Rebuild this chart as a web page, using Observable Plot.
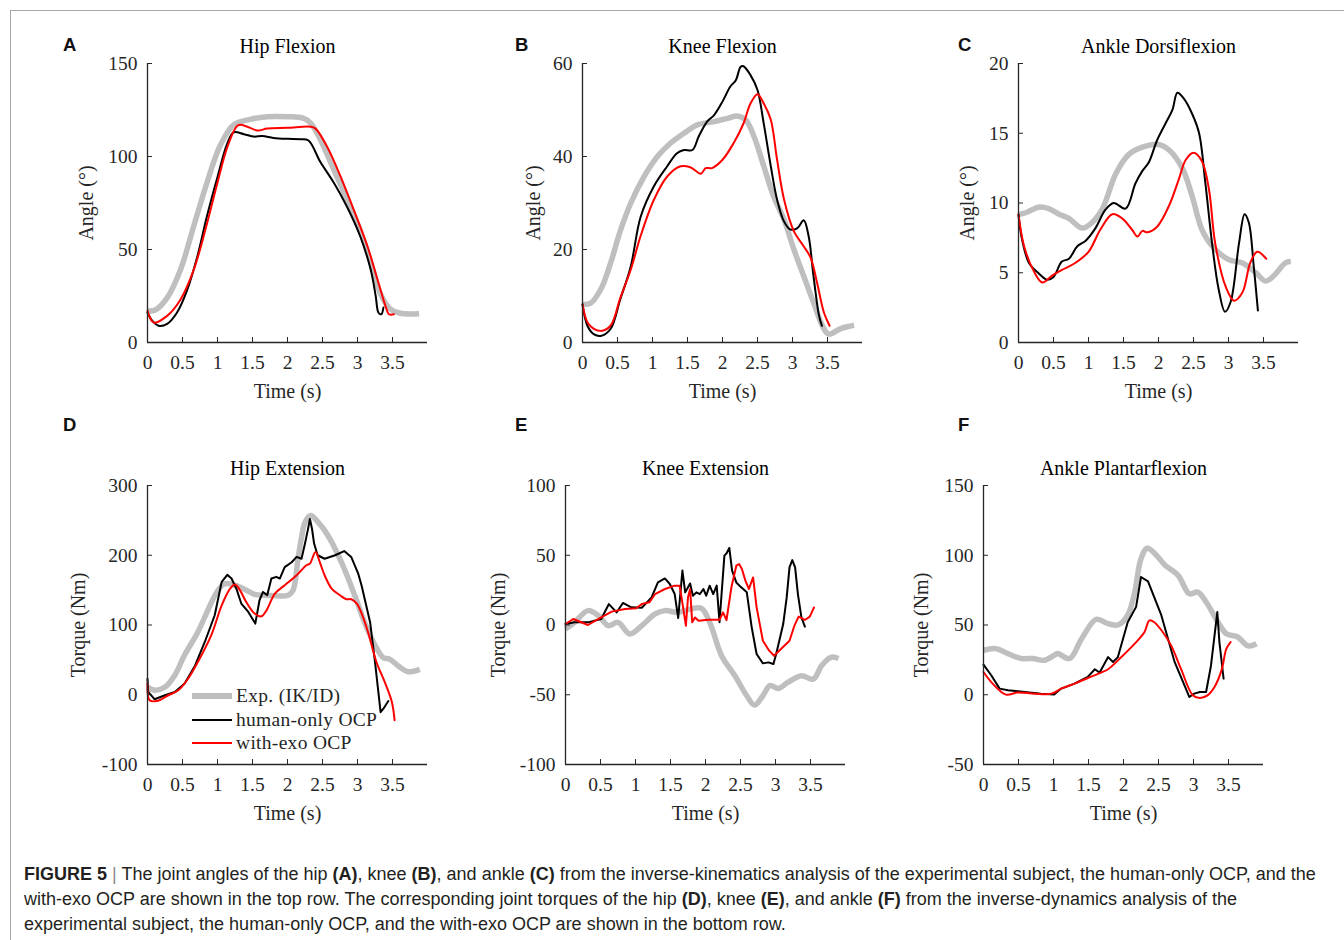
<!DOCTYPE html>
<html>
<head>
<meta charset="utf-8">
<script src="https://cdn.jsdelivr.net/npm/d3@7"></script>
<script src="https://cdn.jsdelivr.net/npm/@observablehq/plot@0.6"></script>
<style>
  html, body { margin: 0; padding: 0; background: #fff; }
  body { width: 1344px; height: 940px; overflow: hidden; position: relative; }
  #frame { position: absolute; left: 10px; top: 10px; width: 1500px; height: 1100px;
           border-left: 1px solid #a8a8a8; border-top: 1px solid #a8a8a8; }
  .panel { position: absolute; }
  .letter { position: absolute; font-family: "Liberation Sans", Arial, sans-serif; font-weight: bold;
            font-size: 18.5px; line-height: 18px; color: #111; }
  .legrow { position: absolute; height: 24px; white-space: nowrap; }
  .legline { position: absolute; left: 0; width: 40px; }
  .legtext { position: absolute; left: 44px; top: 0; font-family: "Liberation Serif", serif;
             font-size: 19.5px; line-height: 24px; color: #262626; letter-spacing: 0.3px; }
  #caption { position: absolute; left: 24px; top: 862px; font-family: "Liberation Sans", Arial, sans-serif;
             font-size: 18px; line-height: 25px; color: #231f20; white-space: nowrap; }
  #caption b { font-weight: bold; }
  #caption .sep { color: #8a8a8a; }
</style>
</head>
<body>
<div id="frame"></div>
<div id="root"></div>
<div id="caption"></div>
<script>
// ---------- tick values ----------
const xTicks = [0, 0.5, 1, 1.5, 2, 2.5, 3, 3.5];
const xDomain = [0, 4];
const hipAngleTicks = [0, 50, 100, 150];
const kneeAngleTicks = [0, 20, 40, 60];
const ankleAngleTicks = [0, 5, 10, 15, 20];
const hipTorqueTicks = [-100, 0, 100, 200, 300];
const kneeTorqueTicks = [-100, -50, 0, 50, 100];
const ankleTorqueTicks = [-50, 0, 50, 100, 150];

// ---------- series: [time (s), value] ----------
// A: Hip Flexion (deg)
const hipFlexExp = [[0,17],[0.11,17.5],[0.28,24],[0.47,39],[0.66,62.5],[0.85,86],[1.04,106],[1.23,117],[1.47,120],[1.71,121.4],[2.0,121.4],[2.23,120.5],[2.33,118],[2.47,109],[2.66,93],[2.85,77],[3.04,60],[3.19,43],[3.33,26],[3.47,18],[3.61,15.7],[3.88,15.5]];
const hipFlexHuman = [[0,16],[0.07,11.6],[0.16,9],[0.28,10],[0.42,16],[0.57,28.6],[0.71,46],[0.85,68],[1.0,89],[1.14,107],[1.23,113],[1.38,112],[1.52,110.7],[1.64,111],[1.80,110],[2.0,109.5],[2.19,109.3],[2.30,108.6],[2.47,97],[2.66,86],[2.85,73],[3.04,57],[3.19,39],[3.26,25],[3.30,16],[3.34,15.2],[3.37,18.8]];
const hipFlexExo = [[0,17],[0.09,10.7],[0.28,14.3],[0.47,23],[0.66,39],[0.85,64],[1.0,86],[1.14,105],[1.28,116.4],[1.35,117],[1.57,114],[1.71,115],[2.0,115.4],[2.33,116],[2.40,115],[2.57,105],[2.76,89],[2.95,71],[3.14,52],[3.30,32],[3.40,19.6],[3.45,15.2],[3.52,15.2]];

// B: Knee Flexion (deg)
const kneeFlexExp = [[0,8.2],[0.11,8.4],[0.26,11.4],[0.40,17],[0.54,24],[0.69,30],[0.88,35.7],[1.07,40],[1.26,42.9],[1.45,45],[1.64,46.8],[1.88,47.5],[2.07,48.2],[2.21,48.7],[2.33,47.9],[2.45,44.3],[2.59,37.9],[2.73,31.4],[2.88,26.4],[3.02,20],[3.16,14.3],[3.30,8.6],[3.45,2.9],[3.52,1.8],[3.69,3],[3.88,3.7]];
const kneeFlexHuman = [[0,8.2],[0.07,3.6],[0.16,1.8],[0.26,1.4],[0.40,2.9],[0.54,9.3],[0.69,16.4],[0.83,27],[1.02,33.6],[1.21,37.9],[1.35,40.7],[1.45,41.4],[1.57,41.4],[1.66,44.3],[1.78,47.5],[1.88,48.9],[2.0,51.8],[2.11,55],[2.19,56.4],[2.26,59.3],[2.30,59.4],[2.40,57.5],[2.50,54.3],[2.59,47],[2.69,37.9],[2.78,30.7],[2.88,26],[2.97,24.3],[3.07,24.6],[3.16,26.3],[3.23,22.9],[3.30,14.3],[3.38,5.7],[3.42,3.6]];
const kneeFlexExo = [[0,8.2],[0.09,3.9],[0.26,2.5],[0.40,3.6],[0.54,9.6],[0.69,15.7],[0.83,22.9],[1.02,30.7],[1.21,35.7],[1.40,37.9],[1.54,37.7],[1.69,36.3],[1.76,37.5],[1.85,37.5],[2.0,39.3],[2.16,42.9],[2.30,47.1],[2.40,51.4],[2.50,53.4],[2.59,51.4],[2.69,47.9],[2.78,39.3],[2.88,30.7],[3.02,23.9],[3.16,20.7],[3.26,18.2],[3.35,12.9],[3.45,6.4],[3.53,3.6]];

// C: Ankle Dorsiflexion (deg)
const ankleDorsiExp = [[0,9.17],[0.10,9.3],[0.29,9.7],[0.43,9.6],[0.58,9.2],[0.72,8.9],[0.91,8.2],[1.05,8.6],[1.20,9.6],[1.39,12.1],[1.58,13.5],[1.77,14.0],[2.0,14.2],[2.15,13.8],[2.34,12.5],[2.48,10.5],[2.62,8.1],[2.77,6.9],[3.0,5.95],[3.20,5.7],[3.39,5.0],[3.53,4.4],[3.65,4.8],[3.81,5.7],[3.89,5.8]];
const ankleDorsiHuman = [[0,9.17],[0.05,7.4],[0.15,5.7],[0.29,4.95],[0.41,4.5],[0.50,4.7],[0.62,5.8],[0.72,6.0],[0.84,6.9],[0.96,7.3],[1.10,8.2],[1.24,9.5],[1.36,10.0],[1.53,9.6],[1.67,11.4],[1.77,12.3],[1.86,12.9],[1.98,14.5],[2.10,15.7],[2.20,16.7],[2.27,17.9],[2.36,17.5],[2.48,16.4],[2.58,15.0],[2.67,11.4],[2.77,6.9],[2.86,3.8],[2.95,2.2],[3.03,2.9],[3.15,7.1],[3.23,9.2],[3.29,8.6],[3.36,5.5],[3.42,2.3]];
const ankleDorsiExo = [[0,9.17],[0.08,6.9],[0.22,5.1],[0.34,4.3],[0.48,4.8],[0.62,5.2],[0.81,5.7],[1.0,6.5],[1.17,8.1],[1.34,9.2],[1.48,8.9],[1.62,8.1],[1.70,7.6],[1.77,8.0],[1.84,7.9],[1.98,8.3],[2.15,9.8],[2.29,11.7],[2.39,13.1],[2.50,13.6],[2.62,13.0],[2.72,11.0],[2.81,7.1],[2.96,4.0],[3.08,3.0],[3.20,3.6],[3.31,5.7],[3.41,6.5],[3.54,6.0]];

// D: Hip Extension (Nm)
const hipExtExp = [[0,11],[0.10,6.4],[0.25,11],[0.39,28],[0.53,57],[0.72,90],[0.87,123],[0.99,147],[1.10,159],[1.25,157],[1.39,151],[1.53,144],[1.68,142.7],[2.01,142.7],[2.08,150],[2.15,195],[2.20,225],[2.25,247],[2.33,257],[2.44,247],[2.58,228],[2.77,190],[2.96,142.5],[3.10,104],[3.25,71],[3.37,53],[3.46,51],[3.60,40],[3.72,33],[3.89,36.5]];
const hipExtHuman = [[0,23],[0.01,4],[0.10,-6.4],[0.25,-0.7],[0.39,4],[0.53,16],[0.68,42],[0.82,76],[0.96,114],[1.06,162],[1.14,172],[1.20,166.6],[1.27,152],[1.34,130.8],[1.44,118.7],[1.54,102],[1.60,135.5],[1.65,147.4],[1.71,142.7],[1.77,166.6],[1.84,169],[1.89,166.6],[1.96,183],[2.06,190],[2.13,197.6],[2.20,195],[2.25,216.8],[2.29,236],[2.32,252],[2.35,238],[2.38,216.8],[2.43,200],[2.53,195],[2.68,200],[2.81,206],[2.91,197.6],[3.01,173.8],[3.06,156],[3.18,104],[3.25,47],[3.33,-25],[3.37,-20],[3.44,-9]];
const hipExtExo = [[0,16],[0.03,-8],[0.13,-9],[0.30,-0.7],[0.44,6.4],[0.58,23],[0.72,47],[0.91,85],[1.06,128],[1.18,152],[1.25,158],[1.32,150],[1.41,133],[1.53,116.4],[1.63,112.5],[1.70,121],[1.82,145],[1.96,157],[2.13,171.3],[2.27,185.7],[2.32,188],[2.40,204.7],[2.46,190.4],[2.53,171.3],[2.63,152.3],[2.75,142.7],[2.84,137],[2.91,137],[2.99,130.8],[3.06,116.4],[3.15,90],[3.27,47],[3.39,18],[3.49,-10],[3.53,-36.5]];

// E: Knee Extension (Nm)
const kneeExtExp = [[0,-2.9],[0.13,1.9],[0.32,10.3],[0.47,6.7],[0.61,-0.5],[0.75,1.9],[0.92,-6.5],[1.09,-0.5],[1.28,7.9],[1.42,10.3],[1.61,9.1],[1.75,11],[1.94,12],[2.06,1.9],[2.23,-22],[2.42,-36.4],[2.59,-50.7],[2.70,-57.4],[2.82,-50.7],[2.92,-43.5],[3.04,-45.5],[3.18,-41],[3.37,-36.4],[3.54,-38.8],[3.66,-29],[3.80,-23],[3.90,-24]];
const kneeExtHuman = [[0,0.7],[0.13,1.9],[0.32,1.9],[0.51,4.3],[0.62,15],[0.73,9],[0.82,15.8],[0.94,12.7],[1.09,12.4],[1.23,19.8],[1.32,30.5],[1.42,33.4],[1.49,29.4],[1.56,22.2],[1.61,5],[1.67,39],[1.71,23.4],[1.78,29.8],[1.82,21],[1.87,23.4],[1.92,22.2],[1.97,25.8],[2.01,21],[2.06,28.2],[2.11,22.2],[2.16,28.2],[2.20,2],[2.27,49.7],[2.30,51.3],[2.34,55.2],[2.38,39],[2.44,30.5],[2.51,27],[2.59,23.4],[2.66,-1.7],[2.73,-20.8],[2.82,-27.5],[2.90,-26.8],[2.97,-28],[3.01,-20.8],[3.11,0.7],[3.16,19.8],[3.20,41.3],[3.24,46.5],[3.28,41.3],[3.32,22.2],[3.37,5.4],[3.42,-1.2]];
const kneeExtExo = [[0,0.7],[0.11,4.3],[0.32,0],[0.51,5.5],[0.66,9.6],[0.85,11.5],[1.01,12],[1.09,15],[1.20,16.3],[1.28,22.2],[1.42,25.8],[1.56,28.2],[1.63,28.2],[1.68,12.6],[1.72,-0.5],[1.75,19.8],[1.78,25.8],[1.81,1.9],[1.85,5.4],[1.90,3],[2.04,3.8],[2.20,3.8],[2.25,9],[2.30,3.6],[2.37,27],[2.44,42.5],[2.48,43.7],[2.52,40.1],[2.57,31.8],[2.62,25.8],[2.68,34.1],[2.73,12.6],[2.82,-11.3],[2.91,-18.4],[2.98,-22],[3.10,-16.1],[3.20,-11.3],[3.27,-0.5],[3.33,6],[3.42,3.6],[3.49,6],[3.55,12.6]];

// F: Ankle Plantarflexion (Nm)
const anklePlantExp = [[0,31.9],[0.18,33],[0.35,29.5],[0.54,26],[0.70,26],[0.87,24.7],[1.01,28.3],[1.06,29.5],[1.23,26],[1.40,40],[1.61,54],[1.78,51],[1.92,50],[2.06,57],[2.16,73.6],[2.25,97.5],[2.34,105],[2.47,100],[2.59,93],[2.78,85.6],[2.94,72.4],[3.06,73.6],[3.18,66.5],[3.35,52],[3.47,43.8],[3.63,41.4],[3.78,35],[3.90,36.6]];
const anklePlantHuman = [[0,21.6],[0.11,14],[0.23,4.4],[0.35,3.2],[0.59,2],[0.82,0.8],[1.01,0.1],[1.11,4.4],[1.30,8],[1.49,12.8],[1.59,18.3],[1.66,15.9],[1.78,27],[1.85,23.5],[1.92,27],[2.06,52],[2.18,63],[2.25,84.4],[2.35,81.3],[2.54,57],[2.73,23.5],[2.94,-1.6],[3.01,0.8],[3.09,2],[3.18,2],[3.25,21],[3.34,59.3],[3.37,37.8],[3.43,11.6]];
const anklePlantExo = [[0,16.3],[0.13,8],[0.32,0.1],[0.49,1.6],[0.73,0.8],[0.97,0.8],[1.11,4.4],[1.30,8],[1.49,12],[1.68,15.9],[1.78,18.3],[1.97,27],[2.16,36.6],[2.30,45],[2.37,53.3],[2.44,52],[2.56,45],[2.68,35.4],[2.82,18.7],[2.99,-0.4],[3.09,-2.3],[3.20,-0.4],[3.30,5.6],[3.40,17.5],[3.47,33],[3.53,37.8]];

// ---------- series styles / legend ----------
const seriesNames = ["Exp. (IK/ID)", "human-only OCP", "with-exo OCP"];
const seriesColors = ["#bfbfbf", "#000000", "#ff0000"];
const seriesWidths = [5.5, 2, 2];

// ---------- panels ----------
const panels = [
  {letter: "A", title: "Hip Flexion", ylabel: "Angle (°)", left: 147, top: 63, yDomain: [0, 150], yTicks: hipAngleTicks, labelDx: 61, letterX: 63, letterY: 35.5, series: [hipFlexExp, hipFlexHuman, hipFlexExo], curves: ["catmull-rom", "catmull-rom", "catmull-rom"]},
  {letter: "B", title: "Knee Flexion", ylabel: "Angle (°)", left: 582, top: 63, yDomain: [0, 60], yTicks: kneeAngleTicks, labelDx: 49, letterX: 515, letterY: 35.5, series: [kneeFlexExp, kneeFlexHuman, kneeFlexExo], curves: ["catmull-rom", "catmull-rom", "catmull-rom"]},
  {letter: "C", title: "Ankle Dorsiflexion", ylabel: "Angle (°)", left: 1018, top: 63, yDomain: [0, 20], yTicks: ankleAngleTicks, labelDx: 51, letterX: 958, letterY: 35.5, series: [ankleDorsiExp, ankleDorsiHuman, ankleDorsiExo], curves: ["catmull-rom", "catmull-rom", "catmull-rom"]},
  {letter: "D", title: "Hip Extension", ylabel: "Torque (Nm)", left: 147, top: 485, yDomain: [-100, 300], yTicks: hipTorqueTicks, labelDx: 69, letterX: 63, letterY: 416, series: [hipExtExp, hipExtHuman, hipExtExo], curves: ["catmull-rom", "linear", "catmull-rom"], legend: true},
  {letter: "E", title: "Knee Extension", ylabel: "Torque (Nm)", left: 565, top: 485, yDomain: [-100, 100], yTicks: kneeTorqueTicks, labelDx: 67, letterX: 515, letterY: 416, series: [kneeExtExp, kneeExtHuman, kneeExtExo], curves: ["catmull-rom", "linear", "linear"]},
  {letter: "F", title: "Ankle Plantarflexion", ylabel: "Torque (Nm)", left: 983, top: 485, yDomain: [-50, 150], yTicks: ankleTorqueTicks, labelDx: 62, letterX: 958, letterY: 416, series: [anklePlantExp, anklePlantHuman, anklePlantExo], curves: ["catmull-rom", "linear", "catmull-rom"]}
];

const PW = 280, PH = 279;
const mL = 100, mT = 50, mR = 20, mB = 70;
const axisColor = "#262626";
const labelFont = {fontSize: 20, letterSpacing: "0.6px"};
const root = document.getElementById("root");

for (const p of panels) {
  const lineMarks = p.series.map((s, i) => Plot.line(s, {
    x: d => d[0], y: d => d[1], curve: p.curves[i],
    stroke: seriesColors[i], strokeWidth: seriesWidths[i],
    strokeLinejoin: "round", strokeLinecap: i === 0 ? "butt" : "round"
  }));
  const chart = Plot.plot({
    width: mL + PW + mR, height: mT + PH + mB,
    marginLeft: mL, marginTop: mT, marginRight: mR, marginBottom: mB,
    x: {domain: xDomain},
    y: {domain: p.yDomain},
    style: {fontFamily: "'Liberation Serif', serif", fontSize: "19.5px", color: axisColor, background: "transparent", overflow: "visible"},
    marks: [
      ...lineMarks,
      Plot.ruleX([xDomain[0]], {stroke: axisColor, strokeWidth: 1.3}),
      Plot.ruleY([p.yDomain[0]], {stroke: axisColor, strokeWidth: 1.3}),
      Plot.axisX({ticks: xTicks, tickSize: -5, fill: "none", label: null, stroke: axisColor}),
      Plot.axisX({ticks: xTicks, tickSize: 0, tickPadding: 13, label: null, tickFormat: d => String(d), fill: axisColor}),
      Plot.axisY({ticks: p.yTicks, tickSize: -5, fill: "none", label: null, stroke: axisColor}),
      Plot.axisY({ticks: p.yTicks, tickSize: 0, tickPadding: 10, label: null, tickFormat: d => String(d), fill: axisColor}),
      Plot.text([p.title], {text: d => d, frameAnchor: "top", textAnchor: "middle", lineAnchor: "bottom", dy: -11, fill: "#000", ...labelFont}),
      Plot.text(["Time (s)"], {text: d => d, frameAnchor: "bottom", textAnchor: "middle", lineAnchor: "bottom", dy: 55, fill: axisColor, ...labelFont}),
      Plot.text([p.ylabel], {text: d => d, frameAnchor: "left", textAnchor: "middle", lineAnchor: "middle", rotate: -90, dx: -p.labelDx, fill: axisColor, ...labelFont})
    ]
  });
  chart.classList.add("panel");
  chart.style.left = (p.left - mL) + "px";
  chart.style.top = (p.top - mT) + "px";
  root.appendChild(chart);

  const letter = document.createElement("div");
  letter.className = "letter";
  letter.textContent = p.letter;
  letter.style.left = p.letterX + "px";
  letter.style.top = p.letterY + "px";
  root.appendChild(letter);

  if (p.legend) {
    const legLeft = 192, legTop0 = 684, legStep = 23.5;
    seriesNames.forEach((name, i) => {
      const row = document.createElement("div");
      row.className = "legrow";
      row.style.left = legLeft + "px";
      row.style.top = (legTop0 + i * legStep) + "px";
      const ln = document.createElement("div");
      ln.className = "legline";
      ln.style.background = seriesColors[i];
      ln.style.height = seriesWidths[i] + "px";
      ln.style.top = (12 - seriesWidths[i] / 2) + "px";
      const tx = document.createElement("div");
      tx.className = "legtext";
      tx.textContent = name;
      row.appendChild(ln);
      row.appendChild(tx);
      root.appendChild(row);
    });
  }
}

// ---------- caption ----------
const captionLines = [
  '<b>FIGURE 5</b> <span class="sep">|</span> The joint angles of the hip <b>(A)</b>, knee <b>(B)</b>, and ankle <b>(C)</b> from the inverse-kinematics analysis of the experimental subject, the human-only OCP, and the',
  'with-exo OCP are shown in the top row. The corresponding joint torques of the hip <b>(D)</b>, knee <b>(E)</b>, and ankle <b>(F)</b> from the inverse-dynamics analysis of the',
  'experimental subject, the human-only OCP, and the with-exo OCP are shown in the bottom row.'
];
document.getElementById("caption").innerHTML = captionLines.join("<br>");
</script>
</body>
</html>
